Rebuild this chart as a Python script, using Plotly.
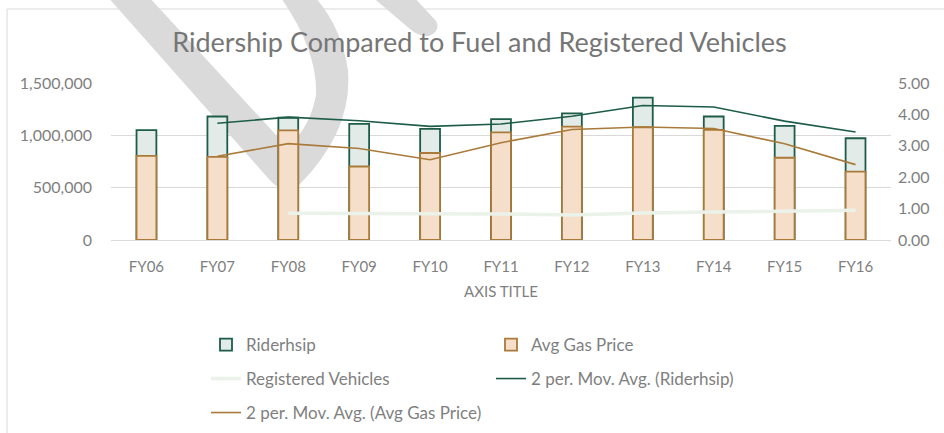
import plotly.graph_objects as go
import pandas as pd

# fiscal years on the category axis
years = ["FY06", "FY07", "FY08", "FY09", "FY10", "FY11", "FY12", "FY13", "FY14", "FY15", "FY16"]

# annual ridership (left axis)
ridership = [1050000, 1180000, 1168000, 1110000, 1062000, 1155000, 1209000, 1360000, 1180000, 1091000, 972000]

# average gas price, $ (right axis)
gas_price = [2.68, 2.65, 3.49, 2.34, 2.77, 3.43, 3.61, 3.59, 3.51, 2.62, 2.18]

# registered vehicles, millions (right axis), no data before FY08
registered = [None, None, 0.85, 0.85, 0.84, 0.83, 0.80, 0.86, 0.89, 0.92, 0.95]

# 2 period moving averages, like the Excel trendlines
ridership_ma = pd.Series(ridership).rolling(2).mean().tolist()
gas_ma = pd.Series(gas_price).rolling(2).mean().tolist()

FONT = "Lato"
TEXT = "#7f7f7f"
GRID = "#d9d9d9"

W, H = 944, 433
L, R, T, B = 111, 53, 83, 193
PW, PH = W - L - R, H - T - B


def to_paper(x, y):
    # pixel position on the page -> paper coordinates
    return (x - L) / PW, (H - B - y) / PH


def path_from_px(cmds):
    out = []
    for c in cmds:
        if isinstance(c, str):
            out.append(c)
        else:
            px_, py_ = to_paper(*c)
            out.append(f"{px_:.4f},{py_:.4f}")
    return " ".join(out)


fig = go.Figure()

fig.add_trace(go.Bar(
    x=years, y=ridership, name="Riderhsip", width=0.28,
    marker=dict(color="#e2ebe7", line=dict(color="#1d5c48", width=1.8)),
    legend="legend", legendrank=1,
))
fig.add_trace(go.Scatter(
    x=years, y=ridership_ma, name="2 per. Mov. Avg. (Riderhsip)", mode="lines",
    line=dict(color="#1d5c48", width=1.6),
    legend="legend2", legendrank=2,
))
fig.add_trace(go.Bar(
    x=years, y=gas_price, name="Avg Gas Price", width=0.28, yaxis="y2",
    marker=dict(color="#f6dfca", line=dict(color="#a97a3a", width=1.8)),
    legend="legend", legendrank=2,
))
fig.add_trace(go.Scatter(
    x=years, y=registered, name="Registered Vehicles", mode="lines", yaxis="y2",
    line=dict(color="#eaf2ea", width=3.5),
    legend="legend2", legendrank=1,
))
fig.add_trace(go.Scatter(
    x=years, y=gas_ma, name="2 per. Mov. Avg. (Avg Gas Price)", mode="lines", yaxis="y2",
    line=dict(color="#a97a3a", width=1.6),
    legend="legend3",
))

# chart border and the grey marker stroke drawn over the chart
shapes = [
    dict(type="path", xref="paper", yref="paper", layer="below",
         path=path_from_px(["M", (7, 460), "L", (7, 9), "L", (960, 9)]),
         line=dict(color=GRID, width=1)),
    dict(type="path", xref="paper", yref="paper", layer="below",
         path=path_from_px(["M", (106, -5), "L", (268, 178), "Q", (284, 198), (300, 184),
                            "Q", (353, 130), (348, 70), "Q", (341, 25), (313, -5),
                            "L", (279, -5), "Q", (318, 50), (316, 95),
                            "Q", (311, 125), (288, 148), "L", (147, -5), "Z"]),
         fillcolor="#dadada", line=dict(width=0)),
    dict(type="path", xref="paper", yref="paper", layer="below",
         path=path_from_px(["M", (370, -5), "L", (412, -5), "L", (436, 21),
                            "Q", (441, 31), (429, 36), "Q", (419, 37), (410, 29), "Z"]),
         fillcolor="#dadada", line=dict(width=0)),
]

legend_common = dict(
    orientation="h", xref="container", yref="container",
    xanchor="left", yanchor="middle",
    font=dict(family=FONT, size=17, color=TEXT),
    entrywidth=240, entrywidthmode="pixels",
    bgcolor="rgba(0,0,0,0)", itemclick=False,
)
lx = 206 / W

fig.update_layout(
    width=W, height=H, autosize=False,
    margin=dict(l=L, r=R, t=T, b=B),
    paper_bgcolor="white", plot_bgcolor="rgba(0,0,0,0)",
    font=dict(family=FONT, color=TEXT),
    title=dict(text="Ridership Compared to Fuel and Registered Vehicles",
               x=479.5 / W, xref="container", xanchor="center",
               y=1 - 43 / H, yref="container", yanchor="middle",
               font=dict(family=FONT, size=27, color="#767676")),
    barmode="overlay",
    shapes=shapes,
    legend=dict(legend_common, x=lx, y=1 - 345 / H),
    legend2=dict(legend_common, x=lx, y=1 - 379 / H),
    legend3=dict(legend_common, x=lx, y=1 - 413 / H),
    xaxis=dict(
        showgrid=False, showline=False, zeroline=False,
        ticks="", ticklabelstandoff=16,
        tickfont=dict(family=FONT, size=15, color=TEXT),
        title=dict(text="AXIS TITLE", standoff=12,
                   font=dict(family=FONT, size=15, color=TEXT)),
    ),
    yaxis=dict(
        range=[0, 1500000], tickvals=[0, 500000, 1000000, 1500000],
        tickformat=",", showgrid=True, gridcolor=GRID, gridwidth=1,
        zeroline=True, zerolinecolor=GRID, zerolinewidth=1,
        showline=False, ticks="", ticklabelstandoff=18,
        tickfont=dict(family=FONT, size=16, color=TEXT),
    ),
    yaxis2=dict(
        range=[0, 5], dtick=1, tick0=0, tickformat=".2f",
        overlaying="y", side="right", showgrid=False, zeroline=False,
        showline=False, ticks="", ticklabelstandoff=6,
        tickfont=dict(family=FONT, size=16, color=TEXT),
    ),
)

# the page is photographed at the window origin, so drop the default body margin
fig.write_html("out.html", config={"displayModeBar": False},
               post_script="document.body.style.margin = '0';")
